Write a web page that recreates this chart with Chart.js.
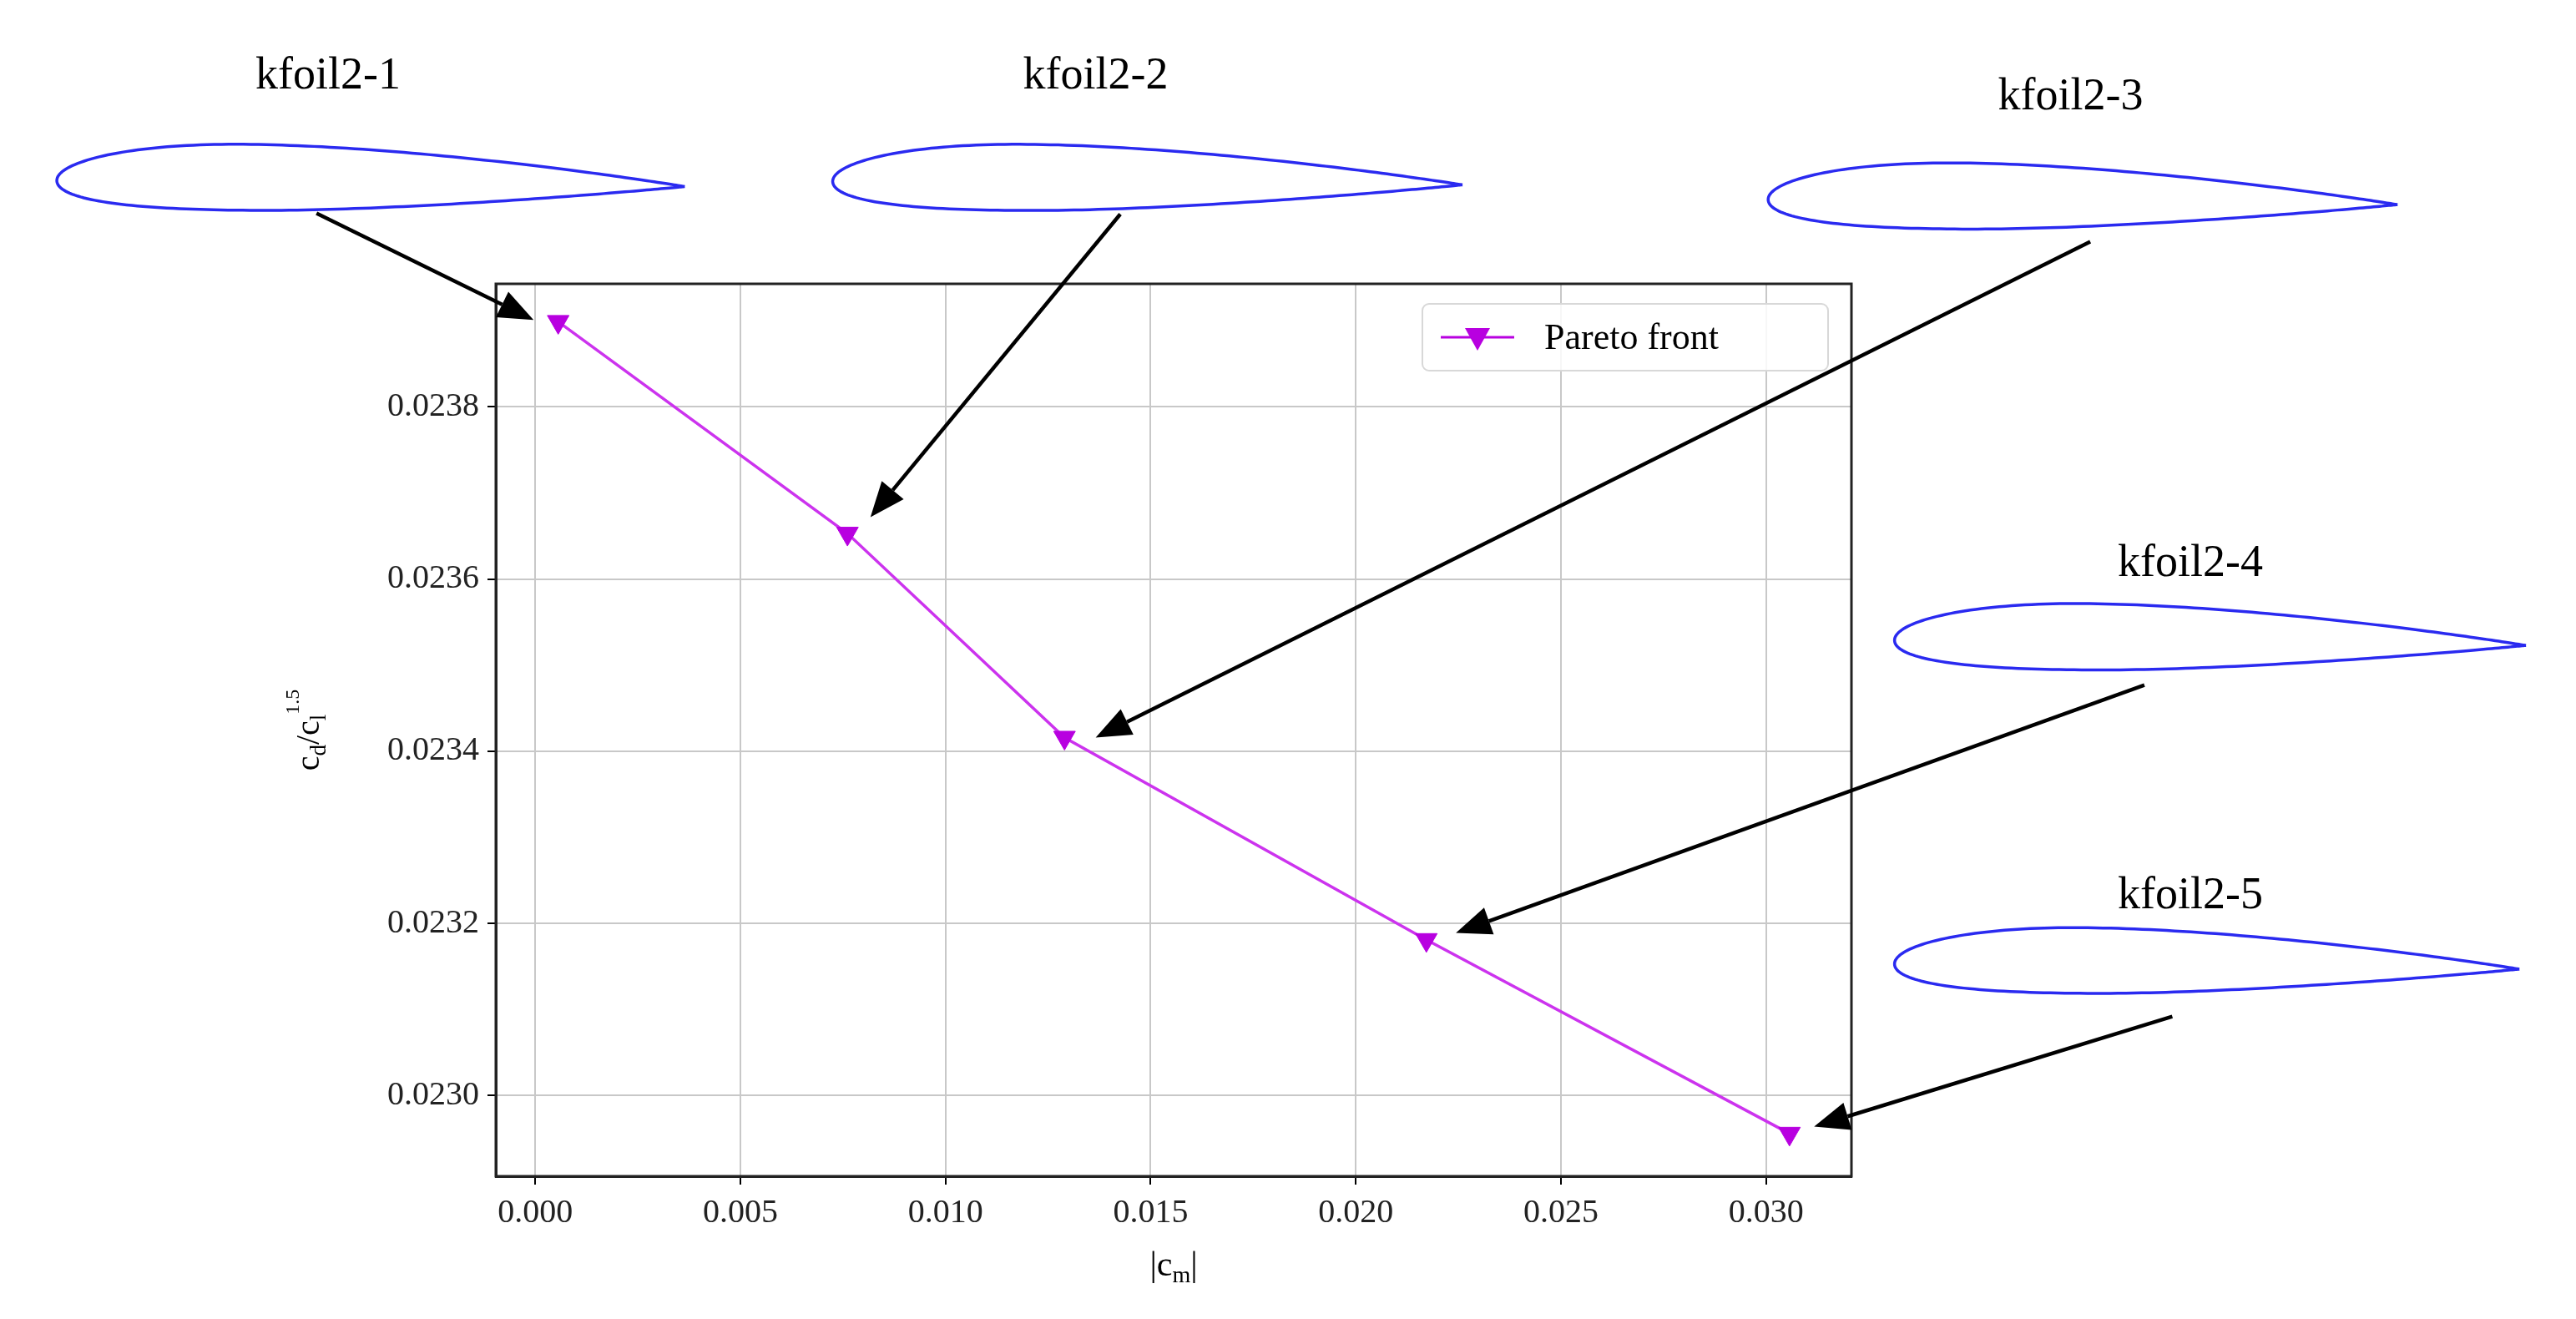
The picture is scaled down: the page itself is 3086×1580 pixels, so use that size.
<!DOCTYPE html>
<html>
<head>
<meta charset="utf-8">
<script src="https://cdn.jsdelivr.net/npm/chart.js@4.4.1/dist/chart.umd.min.js"></script>
<style>
  html, body { margin: 0; padding: 0; background: #fff; }
  #wrap { width: 3086px; height: 1580px; }
</style>
</head>
<body>
<div id="wrap"><canvas id="paretoChart"></canvas></div>
<script>
// Pareto front values
const cmValues = [0.00056, 0.00761, 0.0129, 0.02172, 0.03057];
const cdValues = [0.023899, 0.023653, 0.023416, 0.023181, 0.022956];
const xTicks = [0.000, 0.005, 0.010, 0.015, 0.020, 0.025, 0.030];
const yTicks = [0.0230, 0.0232, 0.0234, 0.0236, 0.0238];

// airfoil annotations, in data units
const foilNames = ['kfoil2-1', 'kfoil2-2', 'kfoil2-3', 'kfoil2-4', 'kfoil2-5'];
const labelX = [-0.00505, 0.01366, 0.03742, 0.04034, 0.04034];
const labelY = [0.024184, 0.024184, 0.024159, 0.023617, 0.023231];
const leX = [-0.01166, 0.00725, 0.03005, 0.03313, 0.03313];
const leY = [0.024063, 0.024062, 0.024041, 0.023529, 0.023153];
const teX = [0.003646, 0.02260, 0.04539, 0.04852, 0.04836];
const teY = [0.024056, 0.024058, 0.024035, 0.023523, 0.023147];
const tailX = [-0.00533, 0.01426, 0.03790, 0.03922, 0.03990];
const tailY = [0.024025, 0.024024, 0.023992, 0.023477, 0.023092];
const headX = [-0.00004, 0.00817, 0.01366, 0.02244, 0.03117];
const headY = [0.023901, 0.023672, 0.023416, 0.023189, 0.022964];

const SERIF = '"Liberation Serif", "DejaVu Serif", serif';
const purple = '#b800e0';

function airfoilPoints(t) {
    // naca-like section, small camber
    const th = 0.105, m = 0.008, p = 0.3;
    const yt = 5 * th * (0.2969 * Math.sqrt(t) - 0.126 * t - 0.3516 * t * t + 0.2843 * t ** 3 - 0.1036 * t ** 4);
    const yc = t < p ? m / (p * p) * (2 * p * t - t * t) : m / ((1 - p) ** 2) * ((1 - 2 * p) + 2 * p * t - t * t);
    return [yc + yt, yc - yt];
}

const annotations = {
    id: 'annotations',
    afterDraw(chart) {
        const { ctx, scales: { x, y } } = chart;
        ctx.save();
        for (let i = 0; i < foilNames.length; i++) {
            // label
            ctx.fillStyle = '#000';
            ctx.font = '54px ' + SERIF;
            ctx.textAlign = 'center';
            ctx.textBaseline = 'middle';
            ctx.fillText(foilNames[i], x.getPixelForValue(labelX[i]), y.getPixelForValue(labelY[i]));

            // airfoil outline
            const x0 = x.getPixelForValue(leX[i]), y0 = y.getPixelForValue(leY[i]);
            const x1 = x.getPixelForValue(teX[i]), y1 = y.getPixelForValue(teY[i]);
            const c = Math.hypot(x1 - x0, y1 - y0);
            const ang = Math.atan2(y1 - y0, x1 - x0);
            ctx.save();
            ctx.translate(x0, y0);
            ctx.rotate(ang);
            ctx.beginPath();
            const n = 120;
            for (let k = n; k >= 0; k--) {
                const t = (1 - Math.cos(Math.PI * k / n)) / 2;
                const yu = airfoilPoints(t)[0];
                k === n ? ctx.moveTo(t * c, -yu * c) : ctx.lineTo(t * c, -yu * c);
            }
            for (let k = 1; k <= n; k++) {
                const t = (1 - Math.cos(Math.PI * k / n)) / 2;
                ctx.lineTo(t * c, -airfoilPoints(t)[1] * c);
            }
            ctx.strokeStyle = '#2a2af0';
            ctx.lineWidth = 3.5;
            ctx.stroke();
            ctx.restore();

            // arrow
            const ax = x.getPixelForValue(tailX[i]), ay = y.getPixelForValue(tailY[i]);
            const bx = x.getPixelForValue(headX[i]), by = y.getPixelForValue(headY[i]);
            const a = Math.atan2(by - ay, bx - ax);
            const hl = 42, hw = 17;
            const sx = bx - hl * Math.cos(a), sy = by - hl * Math.sin(a);
            ctx.beginPath();
            ctx.moveTo(ax, ay);
            ctx.lineTo(sx, sy);
            ctx.strokeStyle = '#000';
            ctx.lineWidth = 4.5;
            ctx.stroke();
            ctx.beginPath();
            ctx.moveTo(bx, by);
            ctx.lineTo(sx + hw * Math.sin(a), sy - hw * Math.cos(a));
            ctx.lineTo(sx - hw * Math.sin(a), sy + hw * Math.cos(a));
            ctx.closePath();
            ctx.fillStyle = '#000';
            ctx.fill();
        }

        // axis titles with sub/superscripts
        const area = chart.chartArea;
        ctx.fillStyle = '#000';
        ctx.textBaseline = 'alphabetic';
        ctx.textAlign = 'left';
        const xt = [['|c', 42, 0], ['m', 28, 8], ['|', 42, 0]];
        drawParts(ctx, xt, (area.left + area.right) / 2, 1528);
        ctx.save();
        ctx.translate(382, (area.top + area.bottom) / 2);
        ctx.rotate(-Math.PI / 2);
        const yt = [['c', 40, 0], ['d', 27, 8], ['/c', 40, 0], ['l', 27, 8], ['1.5', 24, -24]];
        drawParts(ctx, yt, 0, 0);
        ctx.restore();

        // legend
        const lx = 1704, ly = 364, lw = 486, lh = 80;
        ctx.beginPath();
        ctx.roundRect(lx, ly, lw, lh, 8);
        ctx.fillStyle = 'rgba(255,255,255,0.85)';
        ctx.fill();
        ctx.strokeStyle = '#d8d8d8';
        ctx.lineWidth = 2;
        ctx.stroke();
        ctx.beginPath();
        ctx.moveTo(lx + 22, ly + lh / 2);
        ctx.lineTo(lx + 110, ly + lh / 2);
        ctx.strokeStyle = purple;
        ctx.lineWidth = 3;
        ctx.stroke();
        ctx.beginPath();
        const cx = lx + 66, cy = ly + lh / 2;
        ctx.moveTo(cx - 15, cy - 11);
        ctx.lineTo(cx + 15, cy - 11);
        ctx.lineTo(cx, cy + 16);
        ctx.closePath();
        ctx.fillStyle = purple;
        ctx.fill();
        ctx.fillStyle = '#000';
        ctx.font = '44px ' + SERIF;
        ctx.textBaseline = 'middle';
        ctx.fillText('Pareto front', lx + 146, cy + 2);
        ctx.restore();
    }
};

function drawParts(ctx, parts, cx, cy) {
    let total = 0;
    parts.forEach(p => { ctx.font = p[1] + 'px ' + SERIF; total += ctx.measureText(p[0]).width; });
    let px = cx - total / 2;
    parts.forEach(p => {
        ctx.font = p[1] + 'px ' + SERIF;
        ctx.fillText(p[0], px, cy + p[2]);
        px += ctx.measureText(p[0]).width;
    });
}

const ctx = document.getElementById('paretoChart').getContext('2d');
const paretoChart = new Chart(ctx, {
    type: 'scatter',
    data: {
        datasets: [{
            label: 'Pareto front',
            data: cmValues.map((v, i) => ({ x: v, y: cdValues[i] })),
            showLine: true,
            borderColor: '#cc33ee',
            borderWidth: 3.5,
            pointStyle: 'triangle',
            pointRotation: 180,
            pointRadius: 15,
            pointBackgroundColor: purple,
            pointBorderColor: purple,
            pointBorderWidth: 1
        }]
    },
    options: {
        responsive: true,
        maintainAspectRatio: false,
        animation: false,
        devicePixelRatio: 1,
        layout: { padding: { left: 0, top: 340, right: 868, bottom: 0 } },
        scales: {
            x: {
                min: -0.00096,
                max: 0.03208,
                afterBuildTicks: s => { s.ticks = xTicks.map(v => ({ value: v })); },
                afterFit: s => { s.height = 171; },
                ticks: {
                    color: '#222',
                    font: { family: SERIF, size: 40 },
                    padding: 10,
                    maxRotation: 0,
                    callback: v => v.toFixed(3)
                },
                grid: { color: '#c8c8c8', lineWidth: 2, tickColor: '#000', tickLength: 10 },
                border: { color: '#222', width: 3 }
            },
            y: {
                min: 0.0229064,
                max: 0.023943,
                afterBuildTicks: s => { s.ticks = yTicks.map(v => ({ value: v })); },
                afterFit: s => { s.width = 594; },
                ticks: {
                    color: '#222',
                    font: { family: SERIF, size: 40 },
                    padding: 10,
                    callback: v => v.toFixed(4)
                },
                grid: { color: '#c8c8c8', lineWidth: 2, tickColor: '#000', tickLength: 10 },
                border: { color: '#222', width: 3 }
            }
        },
        plugins: {
            legend: { display: false },
            tooltip: { enabled: false }
        }
    },
    plugins: [annotations, {
        id: 'frame',
        afterDatasetsDraw(chart) {
            const a = chart.chartArea, c = chart.ctx;
            c.save();
            c.strokeStyle = '#222';
            c.lineWidth = 3;
            c.strokeRect(a.left, a.top, a.right - a.left, a.bottom - a.top);
            c.restore();
        }
    }]
});
</script>
</body>
</html>
